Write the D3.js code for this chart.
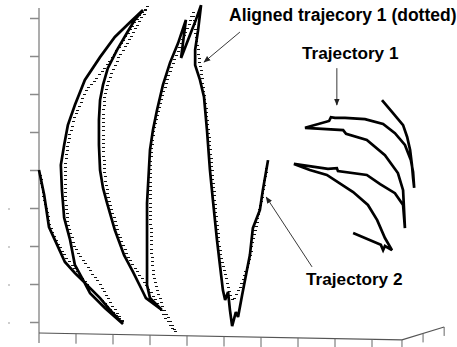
<!DOCTYPE html>
<html>
<head>
<meta charset="utf-8">
<script src="https://cdn.jsdelivr.net/npm/d3@7"></script>
<style>
  html, body { margin: 0; padding: 0; background: #fff; }
  svg { display: block; }
  text { font-family: "Liberation Sans", Arial, Helvetica, sans-serif; font-weight: bold; }
</style>
</head>
<body>
<svg id="chart" width="457" height="347"></svg>
<script>
// ---------- DATA (data units: 1 x-unit = one bottom tick, 1 y-unit = one left tick) ----------
const yTicks = [0, 1, 2, 3, 4, 5, 6, 7, 8];
const yTickDots = [0, 1, 2, 3];
const xTicks = [0, 1, 2, 3, 4, 5, 6, 7, 8, 9];

// Trajectory 2 (solid, left group)
const traj2X = [0.00,0.14,0.27,0.49,0.70,0.97,1.24,1.65,1.92,2.27,
  1.78,1.38,1.19,0.97,0.84,0.68,0.62,0.59,0.68,0.78,0.97,1.24,1.65,2.05,2.46,2.81,
  2.59,2.38,2.11,1.86,1.73,1.65,1.62,1.62,1.65,1.73,1.84,2.05,2.30,2.54,2.81,2.89,3.32,
  3.00,2.92,2.92,2.92,2.92,2.97,3.00,3.08,3.19,3.35,3.54,3.76,3.97,3.84,4.08,4.24,4.38,
  4.30,4.22,4.22,4.35,4.46,4.54,4.62,4.70,4.81,4.89,4.97,5.03,5.11,5.16,5.22,5.32,5.38,5.49,5.62,5.70,5.78,5.97,6.05,6.19];
const traj2Y = [4.00,3.34,2.50,2.03,1.58,1.29,1.03,0.63,0.32,-0.05,
  0.37,0.76,1.11,1.50,2.16,2.74,3.47,4.13,4.66,5.18,5.71,6.37,6.97,7.50,7.89,8.21,
  7.95,7.61,7.16,6.68,6.24,5.84,5.32,4.66,4.00,3.53,3.13,2.42,1.76,1.32,0.79,0.63,0.32,
  0.63,0.97,1.63,2.42,3.13,4.00,4.53,5.05,5.58,6.24,6.82,7.34,7.95,6.95,7.55,7.95,8.34,
  7.68,7.16,6.76,6.37,5.92,5.05,4.00,3.21,2.16,1.50,0.84,0.58,0.79,0.32,-0.11,0.26,0.13,0.71,1.37,1.76,2.47,2.95,3.47,4.26];

// Aligned trajectory 1 (dotted)
const alignedX = [0.03,0.13,0.28,0.49,0.74,1.03,1.36,1.78,2.27,
  1.92,1.57,1.24,0.97,0.78,0.70,0.70,0.81,1.00,1.27,1.54,1.76,1.97,2.19,2.41,2.65,2.92,
  2.86,2.65,2.41,2.14,1.92,1.78,1.73,1.73,1.73,1.76,1.84,1.97,2.16,2.38,2.62,2.86,3.14,3.41,3.68,
  3.32,3.14,3.05,3.03,3.00,3.00,3.00,3.05,3.16,3.32,3.49,3.68,3.86,4.03,4.16,
  4.22,4.27,4.35,4.43,4.51,4.59,4.68,4.76,4.86,4.97,5.11,5.22,5.35,5.51,5.65,5.78,5.92,6.05,6.16];
const alignedY = [3.87,3.26,2.55,2.08,1.68,1.32,0.92,0.50,0.00,
  0.53,1.11,1.55,1.95,2.55,3.34,4.13,4.92,5.53,6.11,6.42,6.68,6.97,7.29,7.63,8.00,8.32,
  8.16,7.82,7.42,6.95,6.50,6.05,5.58,5.05,4.53,3.95,3.42,2.89,2.29,1.76,1.37,1.03,0.58,0.11,-0.26,
  0.45,0.97,1.50,2.16,2.82,3.47,4.13,4.79,5.37,5.97,6.50,6.97,7.42,7.82,8.16,
  7.68,7.29,6.76,6.16,5.58,4.79,3.87,2.95,2.03,1.42,0.92,0.58,0.79,1.11,1.58,2.16,2.82,3.47,4.13];

// Trajectory 1 (solid, right group)
const traj1X = [9.27,9.54,9.84,9.95,10.03,10.08,10.11,10.14,
  10.11,10.05,9.89,9.62,9.30,8.81,8.27,8.00,7.89,7.84,7.19,
  8.22,8.30,8.86,9.35,9.70,9.84,9.86,9.89,
  9.84,9.62,9.22,8.86,8.08,8.05,7.81,6.89,
  7.32,7.78,8.49,8.89,9.14,9.35,9.54,9.35,9.30,9.24,8.49];
const traj1Y = [5.84,5.53,5.18,4.87,4.53,4.13,3.79,3.53,
  3.95,4.26,4.66,4.97,5.21,5.34,5.37,5.37,5.39,5.29,5.11,
  5.05,4.95,4.79,4.39,3.92,3.47,3.08,2.47,
  3.08,3.39,3.63,3.87,3.97,4.05,4.03,4.16,
  4.00,3.87,3.42,3.08,2.68,2.21,1.89,2.00,1.89,2.03,2.34];

// Labels
const labelTexts = ["Aligned trajecory 1 (dotted)", "Trajectory 1", "Trajectory 2"];

// ---------- DRAW ----------
const svg = d3.select("#chart");
const x = d3.scaleLinear().domain([0, 10]).range([39, 409]);
const y = d3.scaleLinear().domain([0, 8]).range([322, 18]);

// Left (vertical) axis
const yAxis = d3.axisLeft(y).tickValues(yTicks).tickSize(9).tickFormat("");
const gy = svg.append("g").attr("transform", `translate(${x(0)},0)`).call(yAxis);
gy.select(".domain").remove();
gy.selectAll(".tick line").attr("stroke", "#8a8a8a").attr("stroke-width", 1.5);
svg.append("line").attr("x1", x(0)).attr("x2", x(0))
  .attr("y1", y(8.26)).attr("y2", y(-0.55))
  .attr("stroke", "#8a8a8a").attr("stroke-width", 1.4);
// remnant label dots
svg.selectAll("circle.ydot").data(yTickDots).enter().append("circle")
  .attr("class", "ydot").attr("cx", x(0) - 30).attr("cy", d => y(d) + 1)
  .attr("r", 0.7).attr("fill", "#777");

// Bottom (slanted) base frame
const baseY = xv => -0.29 + (-0.47 + 0.29) * (xv / 9.81);
const cornerX = 9.81, endX = 10.95, endY = -0.13;
svg.append("line").attr("x1", x(0)).attr("y1", y(baseY(0)))
  .attr("x2", x(cornerX)).attr("y2", y(baseY(cornerX)))
  .attr("stroke", "#555").attr("stroke-width", 1.1);
svg.append("line").attr("x1", x(cornerX)).attr("y1", y(baseY(cornerX)))
  .attr("x2", x(endX)).attr("y2", y(endY))
  .attr("stroke", "#555").attr("stroke-width", 1.1);
svg.selectAll("line.xtick").data(xTicks.slice(1).concat([cornerX])).enter().append("line")
  .attr("class", "xtick")
  .attr("x1", d => x(d)).attr("x2", d => x(d))
  .attr("y1", d => y(baseY(d))).attr("y2", d => y(baseY(d)) + 10)
  .attr("stroke", "#666").attr("stroke-width", 1);
const sideTicks = [10.38, endX];
const sideY = d => baseY(cornerX) + (endY - baseY(cornerX)) * (d - cornerX) / (endX - cornerX);
svg.selectAll("line.stick").data(sideTicks).enter().append("line")
  .attr("class", "stick")
  .attr("x1", d => x(d)).attr("x2", d => x(d))
  .attr("y1", d => y(sideY(d))).attr("y2", d => y(sideY(d)) + 9)
  .attr("stroke", "#666").attr("stroke-width", 1);

const line = d3.line().x(d => x(d[0])).y(d => y(d[1]));
const zip = (a, b) => a.map((v, i) => [v, b[i]]);

// Aligned (dotted) trajectory, drawn as short hatch marks sampled along the path
const alignedPath = svg.append("path").datum(zip(alignedX, alignedY))
  .attr("d", line).attr("fill", "none").attr("stroke", "none");
const node = alignedPath.node();
const total = node.getTotalLength();
const samples = d3.range(0, total, 4.2).map(l => node.getPointAtLength(l));
svg.append("g").attr("shape-rendering", "crispEdges")
  .selectAll("line").data(samples).enter().append("line")
  .attr("x1", p => Math.round(p.x) - 1.5).attr("x2", p => Math.round(p.x) + 1.5)
  .attr("y1", p => Math.round(p.y) + 0.5).attr("y2", p => Math.round(p.y) + 0.5)
  .attr("stroke", "#111").attr("stroke-width", 1);

// Solid trajectories
[zip(traj2X, traj2Y), zip(traj1X, traj1Y)].forEach(pts => {
  svg.append("path").datum(pts).attr("d", line)
    .attr("fill", "none").attr("stroke", "#000")
    .attr("stroke-width", 2.7).attr("stroke-linejoin", "miter").attr("stroke-miterlimit", 3);
});

// Arrow marker
svg.append("defs").append("marker").attr("id", "arr")
  .attr("viewBox", "0 0 10 10").attr("refX", 9).attr("refY", 5)
  .attr("markerWidth", 7).attr("markerHeight", 7).attr("markerUnits", "userSpaceOnUse")
  .attr("orient", "auto")
  .append("path").attr("d", "M0,1 L10,5 L0,9 Z").attr("fill", "#222");

// Annotations
const arrows = [
  [[5.43, 7.63], [4.46, 6.84]],
  [[8.05, 6.68], [8.05, 5.71]],
  [[7.38, 1.45], [6.14, 3.29]]
];
arrows.forEach(a => {
  svg.append("line").attr("x1", x(a[0][0])).attr("y1", y(a[0][1]))
    .attr("x2", x(a[1][0])).attr("y2", y(a[1][1]))
    .attr("stroke", "#222").attr("stroke-width", 0.9).attr("marker-end", "url(#arr)");
});
const labelPos = [[229, 21, 17.5], [302, 59, 17.2], [306, 285, 17.2]];
labelTexts.forEach((t, i) => {
  svg.append("text").attr("x", labelPos[i][0]).attr("y", labelPos[i][1])
    .attr("font-size", labelPos[i][2]).attr("fill", "#000").text(t);
});
</script>
</body>
</html>
